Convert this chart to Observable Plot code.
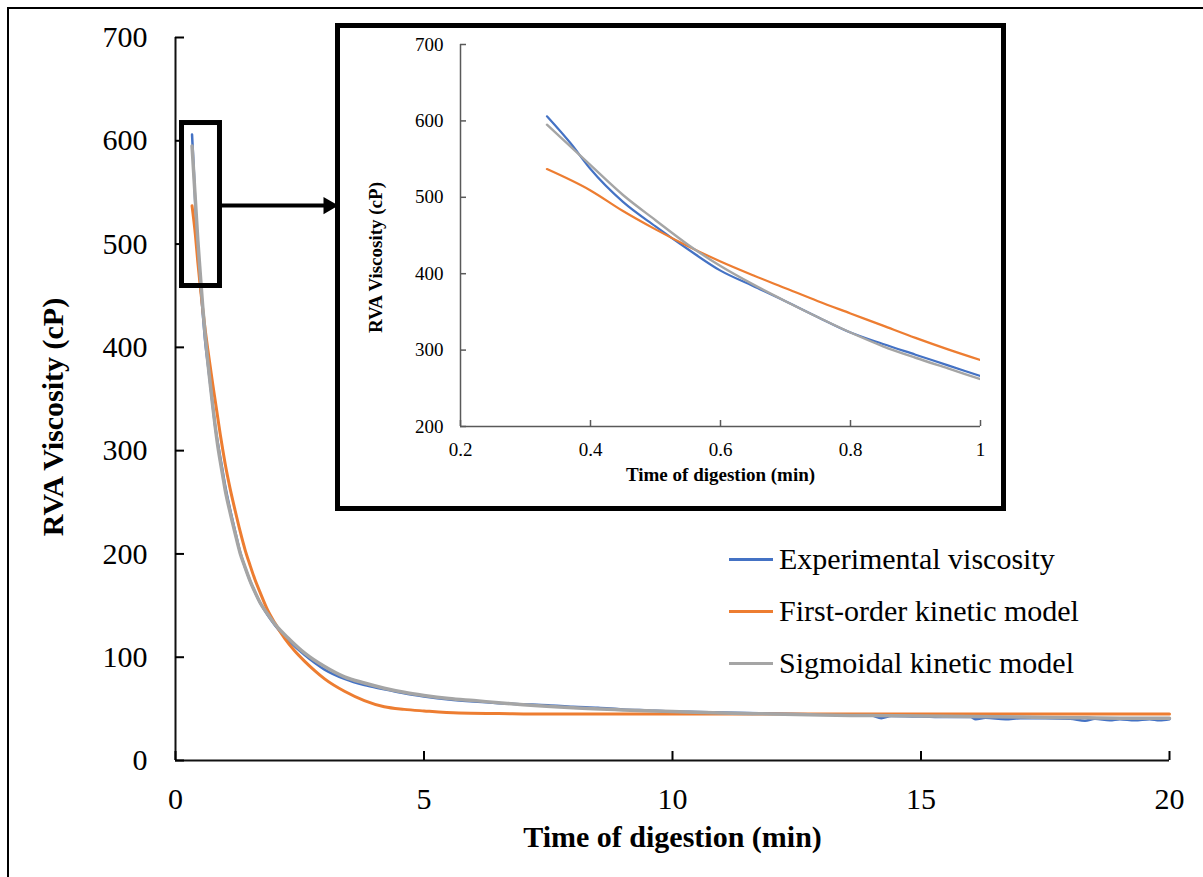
<!DOCTYPE html>
<html><head><meta charset="utf-8">
<script src="https://cdn.jsdelivr.net/npm/d3@7"></script>
<script src="https://cdn.jsdelivr.net/npm/@observablehq/plot@0.6"></script>
<style>
html,body{margin:0;padding:0;background:#fff;}
#fig{position:relative;width:1203px;height:877px;overflow:hidden;font-family:"Liberation Serif","Times New Roman",serif;}
#frame{position:absolute;left:7px;top:7px;width:1300px;height:1000px;border-left:2px solid #000;border-top:2px solid #000;}
#main{position:absolute;left:0;top:0;}
#inset{position:absolute;left:335px;top:23px;width:671px;height:488px;box-sizing:border-box;border:5px solid #000;background:#fff;}
.leg{position:absolute;left:729px;font-size:30px;line-height:30px;height:30px;display:flex;align-items:center;white-space:nowrap;color:#000;}
.leg i{display:inline-block;width:44px;height:3px;margin-right:6px;}
</style></head><body>
<div id="fig"><div id="frame"></div><div id="main"></div><div id="inset"></div><div id="legend"></div></div>
<script>
// ---- data ----
const seriesNames = ["Experimental viscosity", "First-order kinetic model", "Sigmoidal kinetic model"];
const seriesColors = ["#4472C4", "#ED7D31", "#A5A5A5"];

const expTime = [0.333,0.37,0.4,0.45,0.5,0.55,0.6,0.65,0.7,0.75,0.8,0.85,0.9,0.95,1.0,1.1,1.2,1.3,1.4,1.5,1.6,1.7,1.85,2.0,2.3,2.6,3.0,3.4,3.8,4.2,4.6,5.0,5.5,6.0,6.5,7.0,7.5,8.0,8.5,9.0,9.5,10.0,10.5,11.0,11.5,12.0,12.5,13.0,13.5,14.0,14.2,14.4,15.0,15.5,16.0,16.1,16.3,16.7,17.0,17.5,18.0,18.3,18.5,18.8,19.0,19.3,19.6,19.8,20.0];
const expVisc = [606,570,537,494,462,432,404,384,364,343,323,308,294,280,266,243,222,202,187,174,163,153,141,131,115,102,88,79,73,69,65,62,59,57,55.5,54.5,53.5,52,51,49.5,48.5,47.5,47,46.5,46,45.5,45,44.5,44,43.5,41,43,42.5,42,42,40,41.5,40,41,41,40.5,38.5,40.5,39,40,39,40,39,40];

const foTime = [0.333,0.4,0.45,0.5,0.55,0.6,0.65,0.7,0.75,0.8,0.85,0.9,0.95,1.0,1.1,1.2,1.3,1.4,1.5,1.6,1.7,1.85,2.0,2.2,2.4,2.6,2.8,3.0,3.4,3.8,4.2,4.6,5.0,5.7,6.5,7.5,10,15,20];
const foVisc = [537,509,482,458,436,416,398,381,364,348,332,316,301,287,263,242,222,204,189,175,163,146,133,118,106,96,87,79,67,58,52,49.5,48,46,45.5,45,45,45,45];

const sigTime = [0.333,0.4,0.45,0.5,0.55,0.6,0.65,0.7,0.75,0.8,0.85,0.9,0.95,1.0,1.1,1.2,1.3,1.4,1.5,1.6,1.7,1.85,2.0,2.3,2.6,3.0,3.4,3.8,4.2,4.6,5.0,5.5,6.0,6.5,7.0,8.0,9.0,10.0,11,12,13,14,15,16,17,18,19,20];
const sigVisc = [595,542,503,470,438,410,386,364,343,323,305,290,276,262,240,220,201,187,174,163,153,142,132,117,104,91,81,75,70,66,63,60,58,56,54,51,49,47.5,46,45,44,43.5,43,42.5,42,41.5,41,41];

const mainXTicks = [0, 5, 10, 15, 20];
const mainYTicks = [0, 100, 200, 300, 400, 500, 600, 700];
const insetXTicks = [0.2, 0.4, 0.6, 0.8, 1];
const insetYTicks = [200, 300, 400, 500, 600, 700];
const xTitle = "Time of digestion (min)";
const yTitle = "RVA Viscosity (cP)";

// annotation: zoom box around the early part and the arrow to the inset
const zoomBox = [{x1: 0.131, x2: 0.895, y1: 459.4, y2: 617.2}];
const arrowLine = [{x1: 0.895, x2: 3.02, y: 537.3}];
const arrowHead = [{x: 3.078, y: 537.3}];

// ---- build tables ----
const toRows = (ts, vs) => ts.map((t, i) => ({t, v: vs[i]}));
const expRows = toRows(expTime, expVisc);
const foRows = toRows(foTime, foVisc);
const sigRows = toRows(sigTime, sigVisc);
const inRange = r => r.t <= 1.0001;

const font = '"Liberation Serif","Times New Roman",serif';

const main = Plot.plot({
  width: 1203, height: 877,
  marginLeft: 175, marginRight: 34, marginTop: 37, marginBottom: 117,
  style: {fontFamily: font, fontSize: "30px", color: "#000", background: "transparent", overflow: "visible"},
  x: {domain: [0, 20]},
  y: {domain: [0, 700]},
  marks: [
    Plot.line(expRows, {x: "t", y: "v", stroke: seriesColors[0], strokeWidth: 2.5, curve: "monotone-x"}),
    Plot.line(foRows, {x: "t", y: "v", stroke: seriesColors[1], strokeWidth: 3, curve: "monotone-x"}),
    Plot.line(sigRows, {x: "t", y: "v", stroke: seriesColors[2], strokeWidth: 3.5, curve: "monotone-x"}),
    Plot.ruleX([0], {stroke: "#111", strokeWidth: 2}),
    Plot.ruleY([0], {stroke: "#111", strokeWidth: 2}),
    Plot.axisX({ticks: mainXTicks, tickSize: -9, tickPadding: 36, strokeWidth: 2, label: null, tickFormat: d => String(d), fontSize: 30}),
    Plot.axisY({ticks: mainYTicks, tickSize: -9, tickPadding: 37, strokeWidth: 2, label: null, tickFormat: d => String(d), fontSize: 30}),
    Plot.rect(zoomBox, {x1: "x1", x2: "x2", y1: "y1", y2: "y2", fill: "none", stroke: "#000", strokeWidth: 5}),
    Plot.link(arrowLine, {x1: "x1", x2: "x2", y1: "y", y2: "y", stroke: "#000", strokeWidth: 4}),
    Plot.dot(arrowHead, {x: "x", y: "y", symbol: "triangle", rotate: 90, r: 6.4, fill: "#000", stroke: "none"}),
    Plot.text([xTitle], {text: d => d, frameAnchor: "bottom", dy: 86, fontWeight: "bold", fontSize: 30}),
    Plot.text([yTitle], {text: d => d, frameAnchor: "left", textAnchor: "middle", dx: -122, dy: 18, rotate: -90, fontWeight: "bold", fontSize: 30})
  ]
});
document.getElementById("main").append(main);

const inset = Plot.plot({
  width: 661, height: 478,
  marginLeft: 120, marginRight: 21, marginTop: 16, marginBottom: 80,
  style: {fontFamily: font, fontSize: "19px", color: "#000", background: "#fff", overflow: "visible"},
  x: {domain: [0.2, 1]},
  y: {domain: [200, 700]},
  marks: [
    Plot.line(expRows.filter(inRange), {x: "t", y: "v", stroke: seriesColors[0], strokeWidth: 2.2, curve: "monotone-x", clip: true}),
    Plot.line(foRows.filter(inRange), {x: "t", y: "v", stroke: seriesColors[1], strokeWidth: 2.2, curve: "monotone-x", clip: true}),
    Plot.line(sigRows.filter(inRange), {x: "t", y: "v", stroke: seriesColors[2], strokeWidth: 2.4, curve: "monotone-x", clip: true}),
    Plot.ruleX([0.2], {stroke: "#595959", strokeWidth: 1.5}),
    Plot.ruleY([200], {stroke: "#595959", strokeWidth: 1.5}),
    Plot.axisX({ticks: insetXTicks, tickSize: -6, tickPadding: 22, stroke: "#595959", strokeWidth: 1.5, label: null, tickFormat: d => String(d), fontSize: 19}),
    Plot.axisY({ticks: insetYTicks, tickSize: -6, tickPadding: 23, stroke: "#595959", strokeWidth: 1.5, label: null, tickFormat: d => String(d), fontSize: 19}),
    Plot.text([xTitle], {text: d => d, frameAnchor: "bottom", dy: 54, fontWeight: "bold", fontSize: 19}),
    Plot.text([yTitle], {text: d => d, frameAnchor: "left", textAnchor: "middle", dx: -85, dy: 22, rotate: -90, fontWeight: "bold", fontSize: 19})
  ]
});
document.getElementById("inset").append(inset);

// legend
const legend = document.getElementById("legend");
const legendTops = [544, 596, 648];
seriesNames.forEach((name, i) => {
  const row = document.createElement("div");
  row.className = "leg";
  row.style.top = legendTops[i] + "px";
  const sw = document.createElement("i");
  sw.style.background = seriesColors[i];
  row.append(sw, document.createTextNode(name));
  legend.append(row);
});
</script>
</body></html>
